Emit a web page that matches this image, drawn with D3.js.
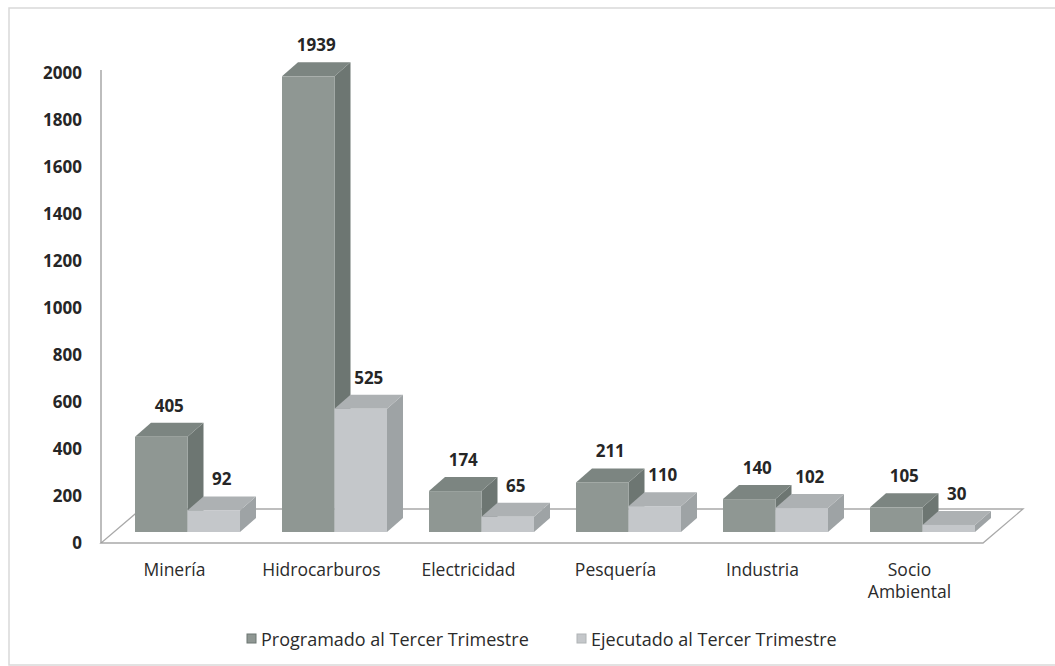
<!DOCTYPE html>
<html>
<head>
<meta charset="utf-8">
<script src="https://cdn.jsdelivr.net/npm/d3@7"></script>
<style>
  body { margin: 0; background: #fff; }
  svg { display: block; font-family: "Open Sans", sans-serif; }
</style>
</head>
<body>
<svg id="chart" width="1055" height="666"></svg>
<script>
// data
const categories = ["Minería", "Hidrocarburos", "Electricidad", "Pesquería", "Industria", "Socio Ambiental"];
const series     = ["Programado al Tercer Trimestre", "Ejecutado al Tercer Trimestre"];
const programado = [405, 1939, 174, 211, 140, 105];
const ejecutado  = [92, 525, 65, 110, 102, 30];
const yTicks     = [0, 200, 400, 600, 800, 1000, 1200, 1400, 1600, 1800, 2000];

const svg = d3.select("#chart");

// colours: front / top / side for each series
const faces = [
  { front: "#8f9793", top: "#7c8581", side: "#6d7672" },
  { front: "#c4c7ca", top: "#adb1b3", side: "#9ea3a5" }
];

// outer frame
svg.append("rect")
  .attr("x", 9).attr("y", 8)
  .attr("width", 1060).attr("height", 657)
  .attr("fill", "none").attr("stroke", "#d9d9d9").attr("stroke-width", 1.5);

// scales
const y = d3.scaleLinear().domain([0, 2000]).range([543, 73]);
const x = d3.scaleBand().domain(categories).range([101, 983]);
const pairW = 105;
const xs = d3.scaleBand().domain(series).range([0, pairW]);

// 3d offsets
const floorD = [40, -34];   // floor depth
const barOff = [13, -11];   // bar front plane inside the floor
const barD   = [16, -14];   // bar depth

// floor
const x0 = x.range()[0], x1 = x.range()[1], y0 = y(0);
svg.append("polygon")
  .attr("points", [
    [x0, y0], [x1, y0], [x1 + floorD[0], y0 + floorD[1]], [x0 + floorD[0], y0 + floorD[1]]
  ].map(p => p.join(",")).join(" "))
  .attr("fill", "#fff").attr("stroke", "#a9a9a9").attr("stroke-width", 1.3);

// y axis
const yAxis = d3.axisLeft(y).tickValues(yTicks).tickSize(0).tickPadding(19).tickFormat(d3.format("d"));
const ga = svg.append("g").attr("transform", `translate(${x0},0)`).call(yAxis);
ga.select(".domain").attr("stroke", "#9a9a9a").attr("stroke-width", 1.3)
  .attr("d", `M0,${y(0)}V70`);
ga.selectAll("text")
  .style("font-family", "'Open Sans', sans-serif")
  .style("font-size", "17px").style("font-weight", "bold").attr("fill", "#262626");

// bars
function drawBar(g, bx, value, c) {
  const yb = y(0) + barOff[1], yt = y(value) + barOff[1];
  const w = xs.bandwidth(), dx = barD[0], dy = barD[1];
  g.append("polygon")
    .attr("points", [[bx + w, yt], [bx + w + dx, yt + dy], [bx + w + dx, yb + dy], [bx + w, yb]].map(p => p.join(",")).join(" "))
    .attr("fill", c.side);
  g.append("polygon")
    .attr("points", [[bx, yt], [bx + dx, yt + dy], [bx + w + dx, yt + dy], [bx + w, yt]].map(p => p.join(",")).join(" "))
    .attr("fill", c.top);
  g.append("rect")
    .attr("x", bx).attr("y", yt).attr("width", w).attr("height", yb - yt)
    .attr("fill", c.front);
}

const bars = svg.append("g");
categories.forEach((cat, i) => {
  const start = x(cat) + x.bandwidth() / 2 - pairW / 2 + barOff[0];
  [programado[i], ejecutado[i]].forEach((v, s) => {
    drawBar(bars, start + xs(series[s]), v, faces[s]);
  });
});

// value labels
const labels = svg.append("g")
  .style("font-size", "17px").style("font-weight", "bold").attr("fill", "#262626")
  .attr("text-anchor", "middle");
categories.forEach((cat, i) => {
  const start = x(cat) + x.bandwidth() / 2 - pairW / 2 + barOff[0];
  [programado[i], ejecutado[i]].forEach((v, s) => {
    labels.append("text")
      .attr("x", start + xs(series[s]) + xs.bandwidth() / 2 + barD[0] / 2)
      .attr("y", y(v) + barOff[1] + barD[1] - 11)
      .text(v);
  });
});

// category labels (split two-word names onto two lines)
const cl = svg.append("g")
  .style("font-size", "17.5px").attr("fill", "#2b2b2b").attr("text-anchor", "middle");
categories.forEach(cat => {
  const cx = x(cat) + x.bandwidth() / 2;
  const words = cat.split(" ");
  const t = cl.append("text").attr("x", cx).attr("y", 576);
  words.forEach((word, j) => {
    t.append("tspan").attr("x", cx).attr("dy", j === 0 ? 0 : 22).text(word);
  });
});

// legend
const legX = [247, 577];
const leg = svg.append("g").style("font-size", "18px").attr("fill", "#2b2b2b");
series.forEach((s, i) => {
  leg.append("rect")
    .attr("x", legX[i]).attr("y", 634).attr("width", 9).attr("height", 9)
    .attr("fill", faces[i].front).attr("stroke", i === 0 ? "#6d7672" : "#b0b4b6").attr("stroke-width", 1);
  leg.append("text").attr("x", legX[i] + 14).attr("y", 646).text(s);
});
</script>
</body>
</html>
